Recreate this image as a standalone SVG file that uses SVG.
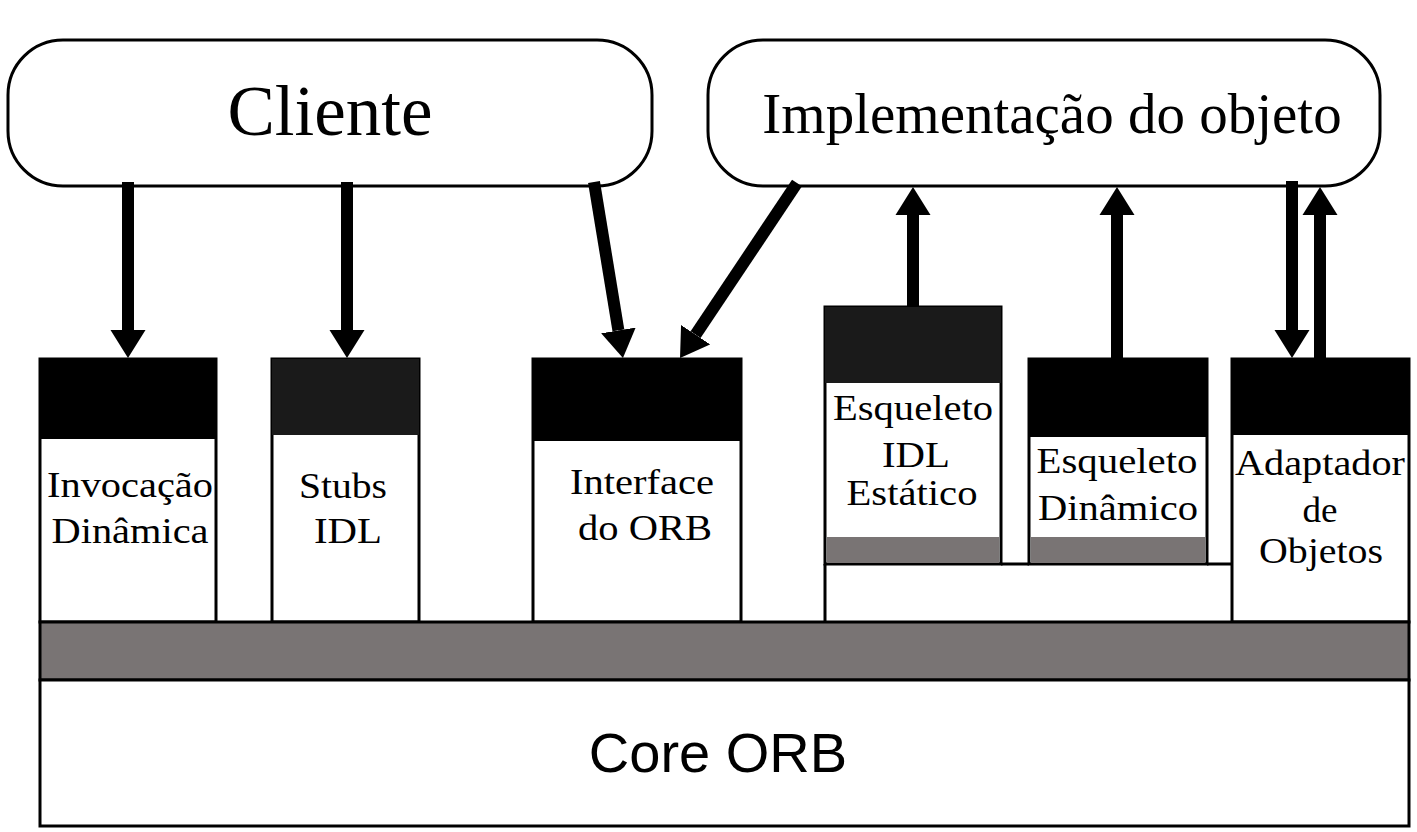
<svg xmlns="http://www.w3.org/2000/svg" width="1417" height="832" viewBox="0 0 1417 832">
<style>
.bg{fill:#fff}
.box{fill:#fff;stroke:#000;stroke-width:3}
.hdr{fill:#000}
.hdr2{fill:#1a1a1a}
.band{fill:#797474}
.ln{stroke:#000;stroke-width:3;fill:none}
.title{font-family:"Liberation Serif","Times New Roman",serif;fill:#000;text-anchor:middle}
.lbl{font-family:"Liberation Serif","Times New Roman",serif;font-size:35px;fill:#000;text-anchor:middle}
.core{font-family:"Liberation Sans",Arial,sans-serif;font-size:56px;fill:#000;text-anchor:middle}
.arr{stroke:#000;stroke-width:12;fill:none;marker-end:url(#ah)}
</style>
<defs>
<marker id="ah" markerUnits="userSpaceOnUse" markerWidth="30" markerHeight="36" viewBox="0 -18 30 36" refX="0" refY="0" orient="auto">
<path d="M0,-17.5 L28,0 L0,17.5 Z" fill="#000"/>
</marker>
</defs>
<rect class="bg" x="0" y="0" width="1417" height="832"/>

<g id="cliente">
<rect class="box" x="8" y="40" width="644" height="146" rx="55" ry="55"/>
<text class="title" x="330" y="135" font-size="71">Cliente</text>
</g>

<g id="implementacao">
<rect class="box" x="708" y="40" width="672" height="146" rx="55" ry="55"/>
<text class="title" x="1052" y="133" font-size="57">Implementação do objeto</text>
</g>

<g id="server-base">
<path class="ln" d="M825,564 V622 M1001,564 H1029 M1207,564 H1232"/>
</g>

<g id="invocacao">
<rect class="box" x="40" y="359" width="176" height="263"/>
<rect class="hdr" x="40" y="359" width="176" height="80"/>
<text class="lbl" x="130" y="497" textLength="166" lengthAdjust="spacingAndGlyphs">Invocação</text>
<text class="lbl" x="130" y="543" textLength="157" lengthAdjust="spacingAndGlyphs">Dinâmica</text>
</g>

<g id="stubs">
<rect class="box" x="272" y="359" width="147" height="263"/>
<rect class="hdr2" x="272" y="359" width="147" height="76"/>
<text class="lbl" x="343" y="498" textLength="88" lengthAdjust="spacingAndGlyphs">Stubs</text>
<text class="lbl" x="348" y="543" textLength="68" lengthAdjust="spacingAndGlyphs">IDL</text>
</g>

<g id="interface">
<rect class="box" x="533" y="359" width="208" height="263"/>
<rect class="hdr" x="533" y="359" width="208" height="82"/>
<text class="lbl" x="642" y="494" textLength="144" lengthAdjust="spacingAndGlyphs">Interface</text>
<text class="lbl" x="645" y="540" textLength="134" lengthAdjust="spacingAndGlyphs">do ORB</text>
</g>

<g id="esqueleto-idl">
<rect class="box" x="825" y="307" width="176" height="257"/>
<rect class="hdr2" x="825" y="307" width="176" height="76"/>
<rect class="band" x="827" y="537" width="172" height="26"/>
<text class="lbl" x="913" y="420" textLength="160" lengthAdjust="spacingAndGlyphs">Esqueleto</text>
<text class="lbl" x="916" y="467" textLength="68" lengthAdjust="spacingAndGlyphs">IDL</text>
<text class="lbl" x="912" y="505" textLength="131" lengthAdjust="spacingAndGlyphs">Estático</text>
</g>

<g id="esqueleto-dinamico">
<rect class="box" x="1029" y="359" width="178" height="205"/>
<rect class="hdr" x="1029" y="359" width="178" height="78"/>
<rect class="band" x="1031" y="537" width="174" height="26"/>
<text class="lbl" x="1117" y="473" textLength="161" lengthAdjust="spacingAndGlyphs">Esqueleto</text>
<text class="lbl" x="1118" y="520" textLength="160" lengthAdjust="spacingAndGlyphs">Dinâmico</text>
</g>

<g id="adaptador">
<rect class="box" x="1232" y="359" width="177" height="263"/>
<rect class="hdr" x="1232" y="359" width="177" height="76"/>
<text class="lbl" x="1320" y="475" textLength="170" lengthAdjust="spacingAndGlyphs">Adaptador</text>
<text class="lbl" x="1320" y="522" textLength="35" lengthAdjust="spacingAndGlyphs">de</text>
<text class="lbl" x="1321" y="563" textLength="124" lengthAdjust="spacingAndGlyphs">Objetos</text>
</g>

<g id="band">
<rect class="box" x="40" y="622" width="1369" height="58" style="fill:#797474"/>
</g>

<g id="core-orb">
<rect class="box" x="40" y="680" width="1369" height="146"/>
<text class="core" x="718" y="772">Core ORB</text>
</g>

<g id="connectors">
<line class="arr" x1="128" y1="182" x2="128" y2="330"/>
<line class="arr" x1="347" y1="182" x2="347" y2="330"/>
<line class="arr" x1="594" y1="182" x2="618.4" y2="330.4"/>
<line class="arr" x1="797" y1="183" x2="695.6" y2="334.7"/>
<line class="arr" x1="913" y1="307" x2="913" y2="215"/>
<line class="arr" x1="1117" y1="359" x2="1117" y2="215"/>
<line class="arr" x1="1292" y1="181" x2="1292" y2="330"/>
<line class="arr" x1="1320" y1="359" x2="1320" y2="215"/>
</g>
</svg>
